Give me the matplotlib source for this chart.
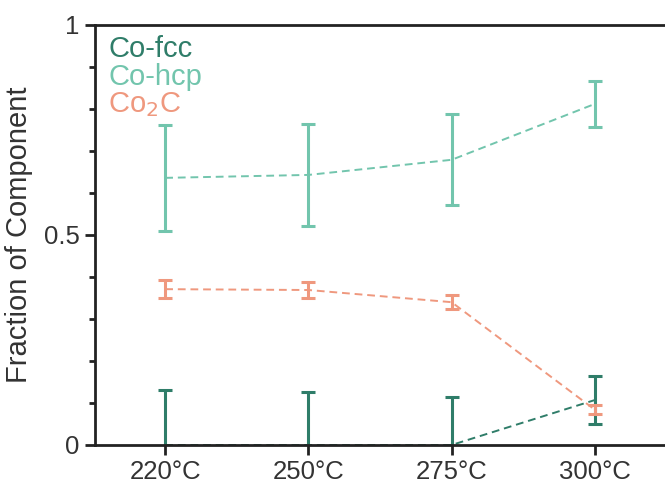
import matplotlib.pyplot as plt
from matplotlib.ticker import MultipleLocator

plt.rcParams["font.family"] = ["Liberation Sans", "DejaVu Sans"]

temps = ["220°C", "250°C", "275°C", "300°C"]
fcc = [0.0, 0.0, 0.0, 0.107]
fcc_err = [0.131, 0.126, 0.114, 0.058]
hcp = [0.636, 0.643, 0.679, 0.812]
hcp_err = [0.126, 0.121, 0.108, 0.055]
co2c = [0.371, 0.369, 0.340, 0.084]
co2c_err = [0.021, 0.020, 0.016, 0.011]

c_fcc = "#2f7d69"
c_hcp = "#72c5ad"
c_co2c = "#ef987e"

fig = plt.figure(figsize=(6.65, 4.84), dpi=100)
ax = fig.add_axes([0.1429, 0.0806, 0.8571, 0.8678])

x = list(range(len(temps)))
for y, e, c in [(fcc, fcc_err, c_fcc), (hcp, hcp_err, c_hcp), (co2c, co2c_err, c_co2c)]:
    ax.plot(x, y, ls=(0, (4, 2.5)), lw=1.4, color=c)
    ax.errorbar(x, y, yerr=e, fmt="none", ecolor=c, elinewidth=2.2,
                capsize=5, capthick=2.2)

ax.set_xlim(-0.49, 3.49)
ax.set_ylim(0, 1)
ax.set_xticks(x)
ax.set_xticklabels(temps)
ax.set_yticks([0, 0.5, 1])
ax.set_yticklabels(["0", "0.5", "1"])
ax.yaxis.set_minor_locator(MultipleLocator(0.1))
ax.tick_params(axis="both", which="major", labelsize=18.5, width=2, length=7,
               color="#222222", labelcolor="#333333", pad=4)
ax.tick_params(axis="y", which="minor", width=2, length=4, color="#222222")
ax.spines["right"].set_visible(False)
for s in ["left", "top", "bottom"]:
    ax.spines[s].set_linewidth(2)
    ax.spines[s].set_color("#222222")
ax.set_ylabel("Fraction of Component", fontsize=21, color="#333333")
ax.yaxis.set_label_coords(-0.108, 0.5)

ax.text(0.023, 0.975, "Co-fcc", color=c_fcc, fontsize=21, transform=ax.transAxes, va="top")
ax.text(0.023, 0.91, "Co-hcp", color=c_hcp, fontsize=21, transform=ax.transAxes, va="top")
ax.text(0.023, 0.845, "Co$_2$C", color=c_co2c, fontsize=21, transform=ax.transAxes, va="top")

fig.savefig("out.png", dpi=100)
